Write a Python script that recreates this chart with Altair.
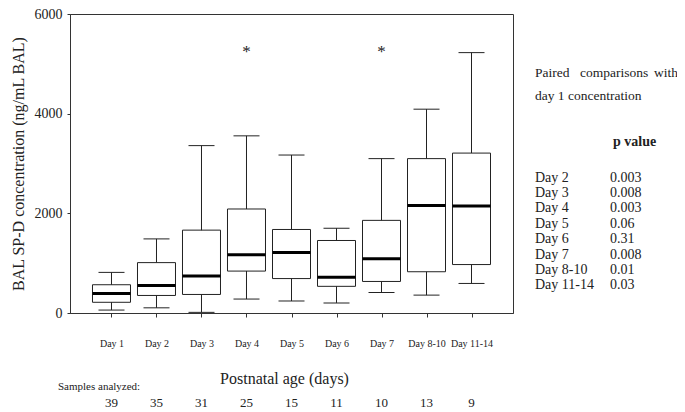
import altair as alt
import pandas as pd

days = ["Day 1", "Day 2", "Day 3", "Day 4", "Day 5", "Day 6", "Day 7", "Day 8-10", "Day 11-14"]
whisker_low = [59, 104, 13, 280, 241, 202, 411, 359, 593]
q1 = [215, 352, 372, 841, 691, 535, 633, 828, 972]
median = [391, 554, 744, 1168, 1213, 717, 1089, 2159, 2146]
q3 = [567, 1011, 1663, 2087, 1676, 1455, 1859, 3098, 3209]
whisker_high = [815, 1487, 3359, 3555, 3170, 1702, 3098, 4090, 5225]
samples = [39, 35, 31, 25, 15, 11, 10, 13, 9]
sig_days = ["Day 4", "Day 7"]
sig_level = [5185, 5185]
comp_days = ["Day 2", "Day 3", "Day 4", "Day 5", "Day 6", "Day 7", "Day 8-10", "Day 11-14"]
p_values = ["0.003", "0.008", "0.003", "0.06", "0.31", "0.008", "0.01", "0.03"]

FONT = "Liberation Serif"
INK = "#222222"

box_df = pd.DataFrame({
    "day": days, "lo": whisker_low, "q1": q1, "med": median,
    "q3": q3, "hi": whisker_high, "n": samples,
})
sig_df = pd.DataFrame({"day": sig_days, "v": sig_level, "t": ["*"] * len(sig_days)})
tab_df = pd.DataFrame({"row": list(range(len(comp_days))), "day": comp_days, "p": p_values})

xenc = alt.X(
    "day:N", sort=days,
    scale=alt.Scale(type="point", padding=0.922),
    axis=alt.Axis(title="Postnatal age (days)", labelAngle=0, tickSize=4,
                  labelPadding=21, labelFontSize=10, titleFontSize=16,
                  titlePadding=22, titleFontWeight="normal", titleX=214),
)
yscale = alt.Scale(domain=[0, 6000], nice=False)
yaxis = alt.Axis(title="BAL SP-D concentration (ng/mL BAL)", values=[0, 2000, 4000, 6000],
                 format="d", tickSize=3, labelPadding=5, labelFontSize=14, titleFontSize=16,
                 titlePadding=8, titleFontWeight="normal", grid=False)

base = alt.Chart(box_df)

whisk = base.mark_rule(color=INK, strokeWidth=1).encode(
    x=xenc, y=alt.Y("lo:Q", scale=yscale, axis=yaxis), y2="hi:Q")
box = base.mark_bar(size=38, fill="white", stroke=INK, strokeWidth=1, opacity=1).encode(
    x=alt.X("day:N", sort=days), y="q1:Q", y2="q3:Q")
med = base.mark_tick(size=38, thickness=3, color="black", orient="horizontal", opacity=1).encode(
    x=alt.X("day:N", sort=days), y="med:Q")
cap_lo = base.mark_tick(size=26, thickness=1, color=INK, orient="horizontal", opacity=1).encode(
    x=alt.X("day:N", sort=days), y="lo:Q")
cap_hi = base.mark_tick(size=26, thickness=1, color=INK, orient="horizontal", opacity=1).encode(
    x=alt.X("day:N", sort=days), y="hi:Q")
stars = alt.Chart(sig_df).mark_text(font=FONT, fontSize=17, color=INK, baseline="middle", dy=-3).encode(
    x=alt.X("day:N", sort=days), y="v:Q", text="t:N")
counts = base.mark_text(font=FONT, fontSize=13, color=INK, baseline="middle").encode(
    x=alt.X("day:N", sort=days), y=alt.value(389), text="n:Q")

samples_lbl = alt.Chart(pd.DataFrame({"t": ["Samples analyzed:"]})).mark_text(
    font=FONT, fontSize=11, color=INK, align="left", baseline="middle").encode(
    x=alt.value(-12), y=alt.value(373), text="t:N")

hdr_df = pd.DataFrame({
    "t": ["Paired", "comparisons", "with", "day 1 concentration"],
    "px": [465, 510, 584, 465],
    "py": [59, 59, 59, 82],
})
headers = alt.Chart(hdr_df).mark_text(font=FONT, fontSize=13.5, color=INK, align="left",
                                      baseline="middle").encode(
    x=alt.X("px:Q", scale=None), y=alt.Y("py:Q", scale=None), text="t:N")
pval_hdr = alt.Chart(pd.DataFrame({"t": ["p value"]})).mark_text(
    font=FONT, fontSize=14, fontWeight="bold", color=INK, align="left", baseline="middle").encode(
    x=alt.value(543), y=alt.value(128), text="t:N")

tscale = alt.Scale(domain=[-10.65, 8.80], reverse=True, nice=False, zero=False)
tab_day = alt.Chart(tab_df).mark_text(font=FONT, fontSize=14, color=INK, align="left",
                                      baseline="middle").encode(
    x=alt.value(465), y=alt.Y("row:Q", scale=tscale, axis=None), text="day:N")
tab_p = alt.Chart(tab_df).mark_text(font=FONT, fontSize=14, color=INK, align="left",
                                    baseline="middle").encode(
    x=alt.value(540), y=alt.Y("row:Q", scale=tscale, axis=None), text="p:N")

main = alt.layer(whisk, box, med, cap_lo, cap_hi, stars, counts, samples_lbl, headers, pval_hdr)
table = alt.layer(tab_day, tab_p)

chart = alt.layer(main, table).resolve_scale(y="independent").properties(
    width=443, height=299,
    autosize=alt.AutoSizeParams(type="none"),
    padding={"left": 62, "top": 6, "right": 164, "bottom": 97},
    background="white",
).configure_view(stroke="#333333", strokeWidth=1).configure_axis(
    labelFont=FONT, titleFont=FONT, labelColor=INK, titleColor=INK,
    domainColor="#333333", tickColor="#333333",
)

chart.save("out.html", embed_options={"renderer": "svg", "actions": False})
